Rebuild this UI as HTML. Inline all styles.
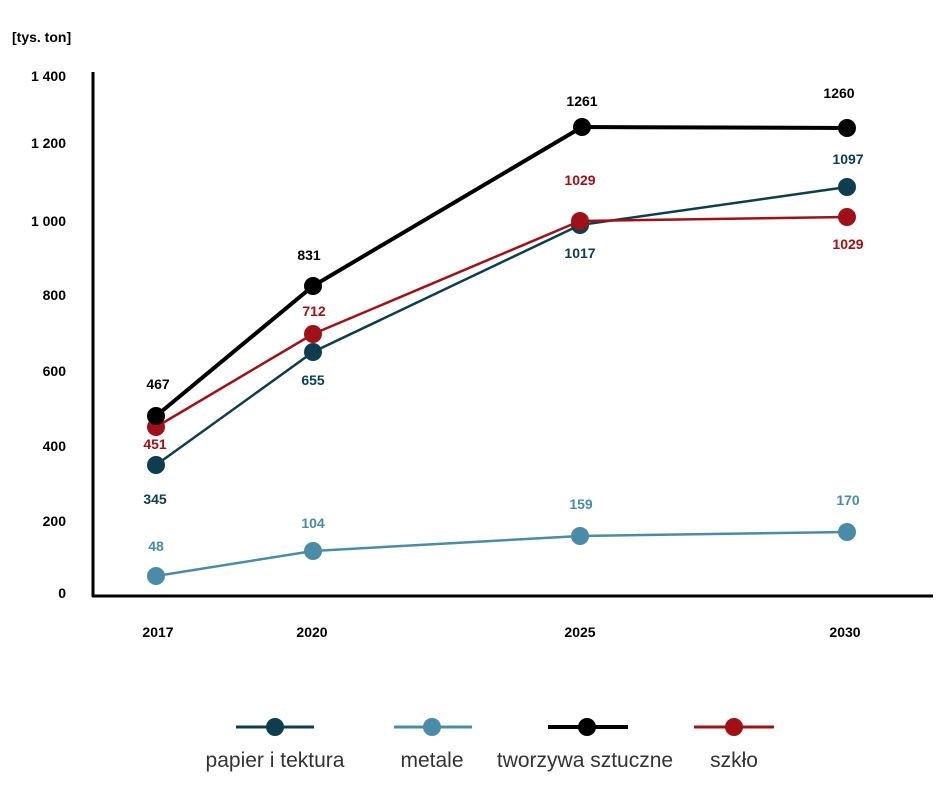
<!DOCTYPE html>
<html><head><meta charset="utf-8"><style>
html,body{margin:0;padding:0;background:#fff}
svg{display:block}
text{font-family:"Liberation Sans",sans-serif}
</style></head><body>
<svg width="941" height="806" viewBox="0 0 941 806" xmlns="http://www.w3.org/2000/svg">
<text x="12" y="42" font-size="14" font-weight="bold" fill="#000">[tys. ton]</text>
<g font-size="14" font-weight="bold" fill="#000" text-anchor="end">
<text x="66" y="81">1 400</text>
<text x="66" y="148">1 200</text>
<text x="66" y="226">1 000</text>
<text x="66" y="300">800</text>
<text x="66" y="376">600</text>
<text x="66" y="451">400</text>
<text x="66" y="526">200</text>
<text x="66" y="598">0</text>
</g>
<line x1="93" y1="72" x2="93" y2="597" stroke="#000" stroke-width="3"/>
<line x1="92" y1="596" x2="933" y2="596" stroke="#000" stroke-width="3"/>
<g font-size="14" font-weight="bold" fill="#000" text-anchor="middle">
<text x="158" y="637">2017</text>
<text x="312" y="637">2020</text>
<text x="580" y="637">2025</text>
<text x="845" y="637">2030</text>
</g>
<polyline points="156,576 313,551 580,536 847,532" fill="none" stroke="#4a8ba8" stroke-width="2.5"/>
<g fill="#4a8ba8"><circle cx="156" cy="576" r="9"/><circle cx="313" cy="551" r="9"/><circle cx="580" cy="536" r="9"/><circle cx="847" cy="532" r="9"/></g>
<polyline points="156,465 313,352 580,225 847,187" fill="none" stroke="#0d3d4f" stroke-width="2.5"/>
<g fill="#0d3d4f"><circle cx="156" cy="465" r="9"/><circle cx="313" cy="352" r="9"/><circle cx="580" cy="225" r="9"/><circle cx="847" cy="187" r="9"/></g>
<polyline points="156,427 313,334 580,221 847,217" fill="none" stroke="#a01016" stroke-width="2.5"/>
<g fill="#a01016"><circle cx="156" cy="427" r="9"/><circle cx="313" cy="334" r="9"/><circle cx="580" cy="221" r="9"/><circle cx="847" cy="217" r="9"/></g>
<polyline points="156,416 313,286 582,127 847,128" fill="none" stroke="#000" stroke-width="4"/>
<g fill="#000"><circle cx="156" cy="416" r="9"/><circle cx="313" cy="286" r="9"/><circle cx="582" cy="127" r="9"/><circle cx="847" cy="128" r="9"/></g>
<g font-size="14" font-weight="bold" text-anchor="middle">
<text x="158" y="389" fill="#000">467</text>
<text x="309" y="260" fill="#000">831</text>
<text x="582" y="106" fill="#000">1261</text>
<text x="839" y="98" fill="#000">1260</text>
<text x="155" y="449" fill="#a01016" font-family="DejaVu Sans">451</text>
<text x="314" y="316" fill="#a01016" font-family="DejaVu Sans">712</text>
<text x="580" y="185" fill="#a01016" font-family="DejaVu Sans">1029</text>
<text x="848" y="249" fill="#a01016" font-family="DejaVu Sans">1029</text>
<text x="155" y="504" fill="#0d3d4f" font-family="DejaVu Sans">345</text>
<text x="313" y="385" fill="#0d3d4f" font-family="DejaVu Sans">655</text>
<text x="580" y="258" fill="#0d3d4f" font-family="DejaVu Sans">1017</text>
<text x="848" y="164" fill="#0d3d4f" font-family="DejaVu Sans">1097</text>
<text x="156" y="551" fill="#4a8ba8" font-family="DejaVu Sans">48</text>
<text x="313" y="528" fill="#4a8ba8" font-family="DejaVu Sans">104</text>
<text x="581" y="509" fill="#4a8ba8" font-family="DejaVu Sans">159</text>
<text x="848" y="505" fill="#4a8ba8" font-family="DejaVu Sans">170</text>
</g>
<line x1="236" y1="727" x2="314" y2="727" stroke="#0d3d4f" stroke-width="3"/><circle cx="275" cy="727" r="9" fill="#0d3d4f"/>
<line x1="394" y1="727" x2="472" y2="727" stroke="#4a8ba8" stroke-width="3"/><circle cx="432" cy="727" r="9" fill="#4a8ba8"/>
<line x1="548" y1="727" x2="628" y2="727" stroke="#000" stroke-width="4"/><circle cx="587" cy="727" r="9" fill="#000"/>
<line x1="694" y1="727" x2="774" y2="727" stroke="#a01016" stroke-width="3"/><circle cx="734" cy="727" r="9" fill="#a01016"/>
<g font-size="21" fill="#333" text-anchor="middle">
<text x="275" y="767">papier i tektura</text>
<text x="432" y="767">metale</text>
<text x="585" y="767">tworzywa sztuczne</text>
<text x="734" y="767">szkło</text>
</g>
</svg>
</body></html>
